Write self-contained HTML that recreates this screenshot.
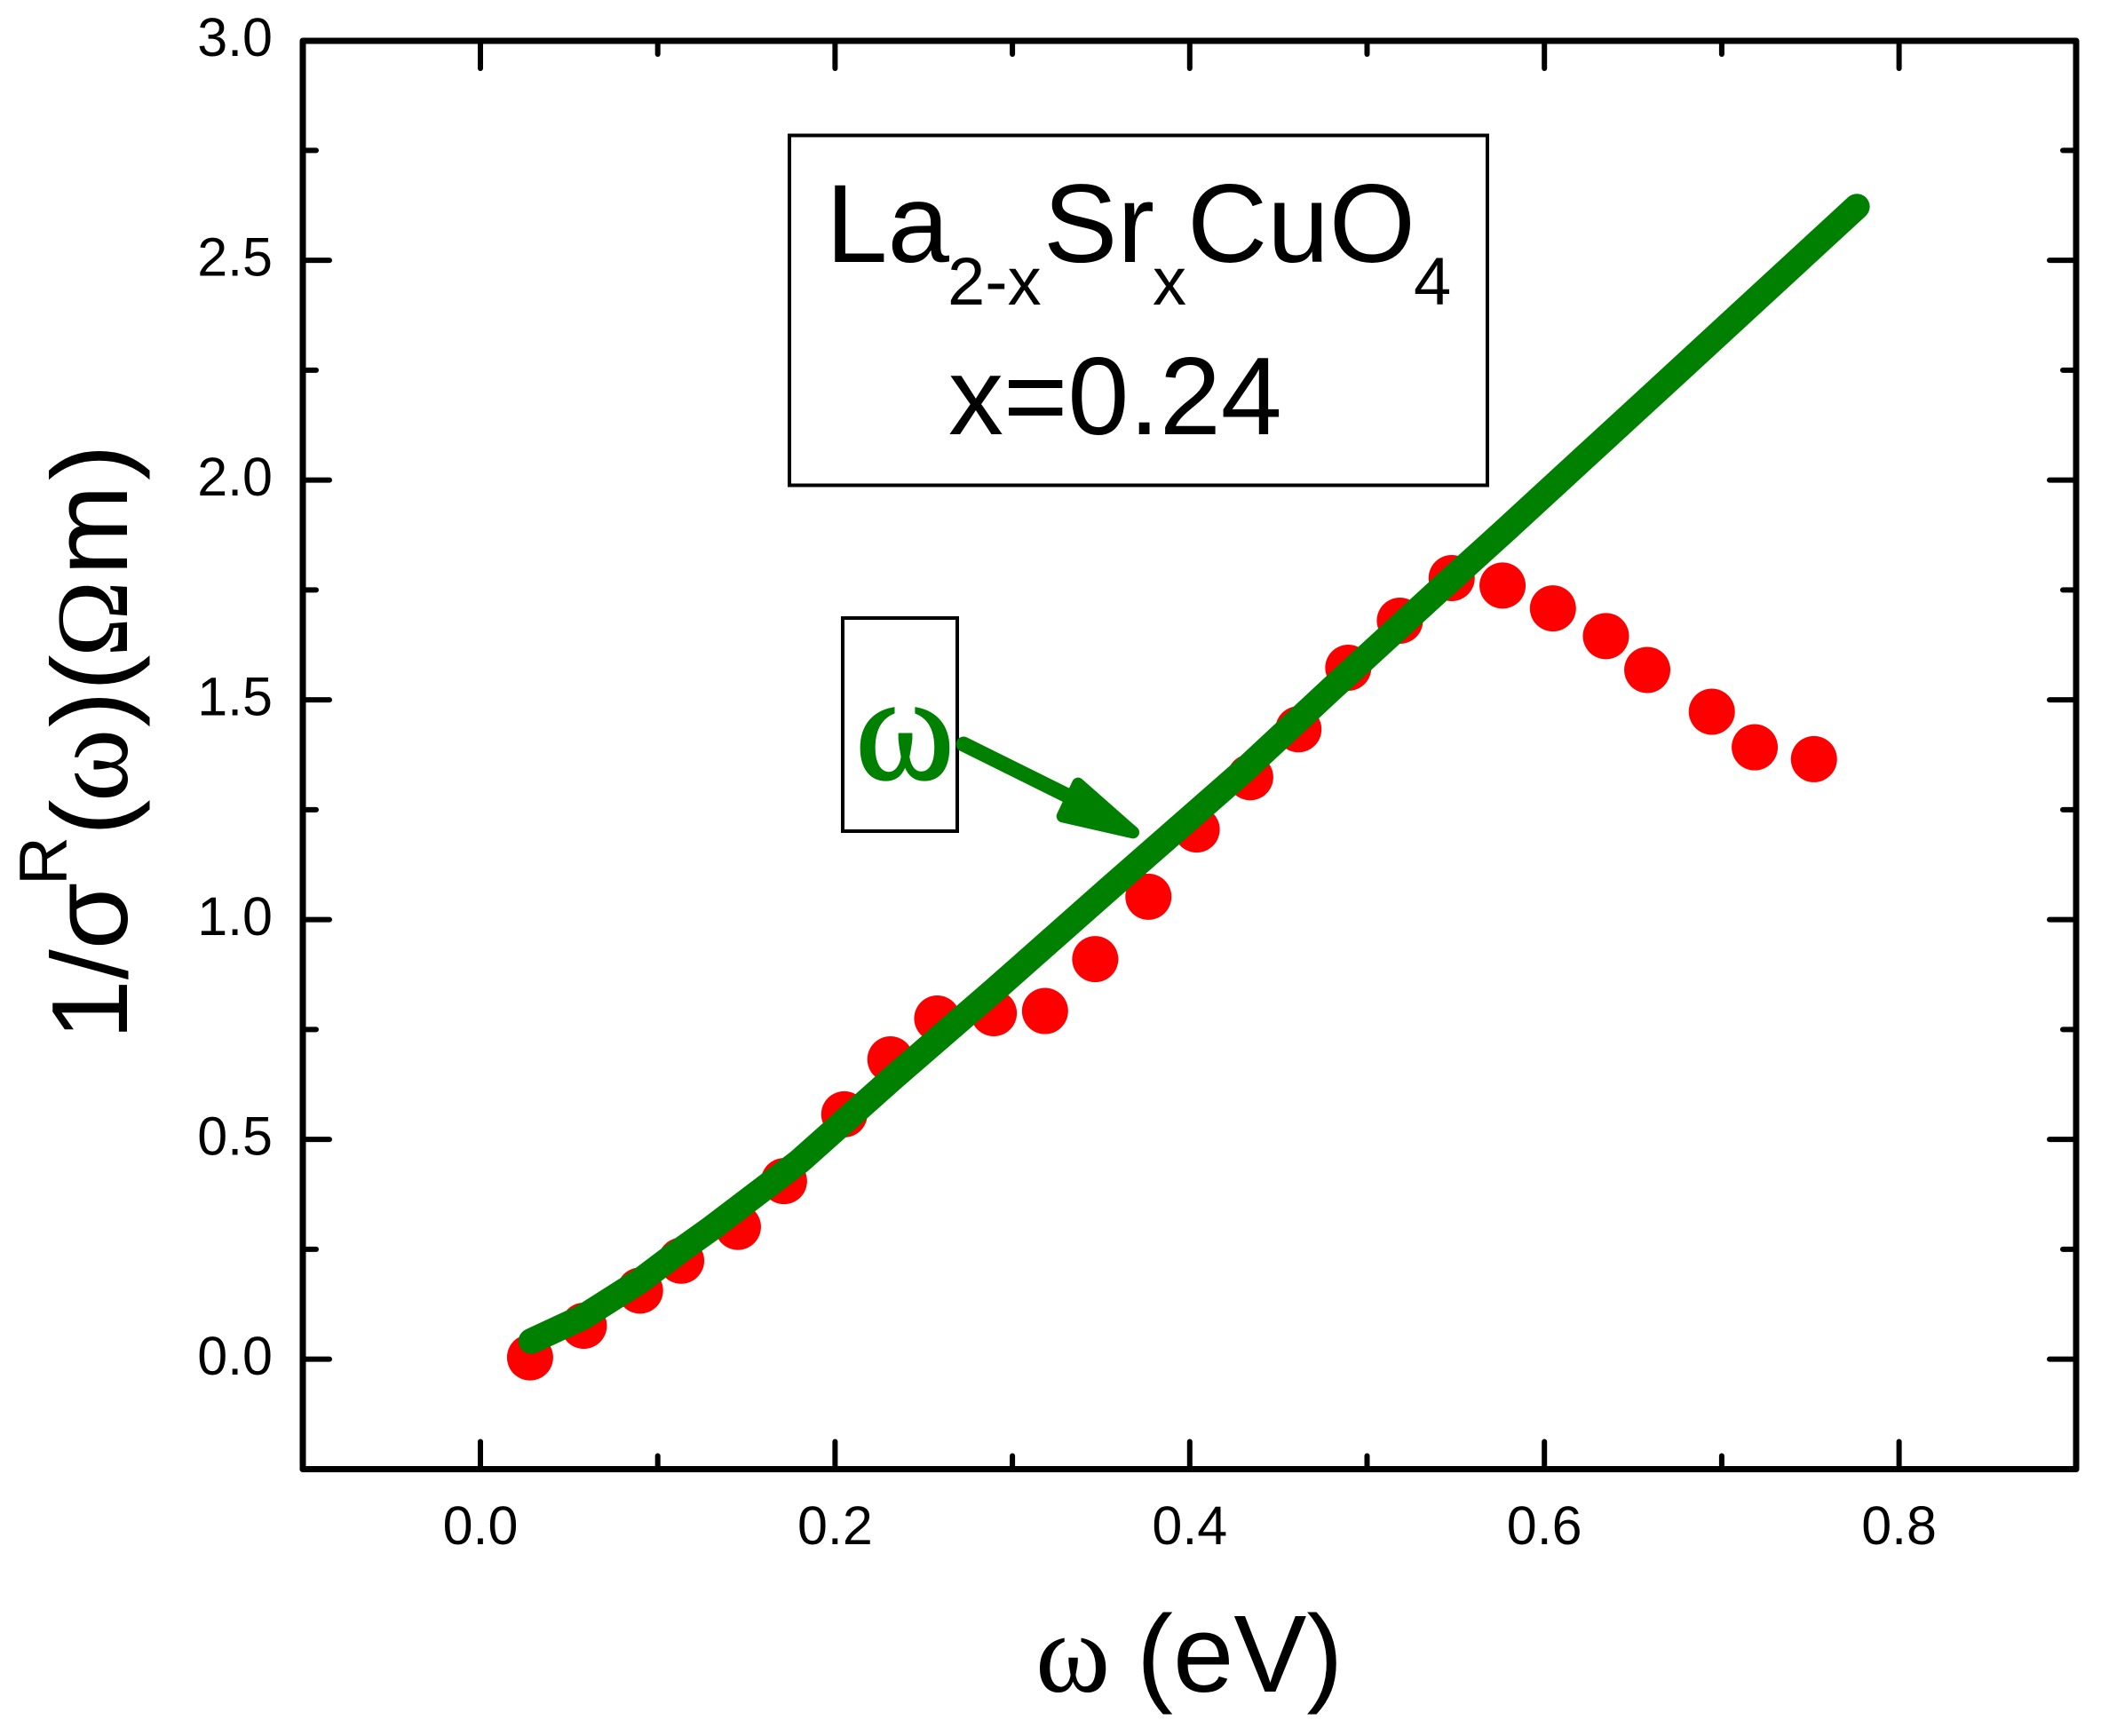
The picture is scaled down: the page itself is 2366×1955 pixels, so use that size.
<!DOCTYPE html>
<html lang="en">
<head>
<meta charset="utf-8">
<title>Inverse optical conductivity of La2-xSrxCuO4</title>
<style>
html,body{margin:0;padding:0;background:#fff;}
svg{display:block;}
text{font-family:"Liberation Sans",Arial,sans-serif;fill:#000;}
.serif{font-family:"Liberation Serif","DejaVu Serif",serif;}
</style>
</head>
<body>
<svg id="chart" xmlns="http://www.w3.org/2000/svg" width="2366" height="1955" viewBox="0 0 2366 1955">
  <rect x="0" y="0" width="2366" height="1955" fill="#fff"/>
  <g id="ticks"></g>
  <g id="ticklabels"></g>
  <g id="dots"></g>
  <path id="fit" fill="none" stroke="#008000" stroke-width="29" stroke-linecap="round" stroke-linejoin="round"/>
  <rect x="341" y="46" width="1997" height="1608.5" fill="none" stroke="#000" stroke-width="7" stroke-linejoin="round"/>

  <g>
    <rect x="889" y="152.5" width="786" height="394" fill="none" stroke="#000" stroke-width="4"/>
    <text font-size="125"><tspan x="930" y="295">La</tspan><tspan x="1067" y="343" font-size="76">2-x</tspan><tspan x="1175" y="295">Sr</tspan><tspan x="1298" y="343" font-size="76">x</tspan><tspan x="1337" y="295">CuO</tspan><tspan x="1592" y="343" font-size="76">4</tspan></text>
    <text x="1068" y="489" font-size="124">x=0.24</text>
  </g>

  <g>
    <rect x="949" y="696" width="129" height="240" fill="none" stroke="#000" stroke-width="4"/>
    <text class="serif" x="963" y="877" font-size="170" stroke="#008000" stroke-width="2" style="fill:#008000">ω</text>
    <line x1="1085" y1="838" x2="1210" y2="900" stroke="#008000" stroke-width="17" stroke-linecap="round"/>
    <polygon points="1214,882.7 1276,937.3 1196.7,919.3" fill="#008000" stroke="#008000" stroke-width="14" stroke-linejoin="round"/>
  </g>

  <text font-size="123"><tspan class="serif" x="1166" y="1905" font-size="128">ω</tspan><tspan x="1280" y="1905">(eV)</tspan></text>

  <g transform="rotate(-90)">
    <text font-size="122"><tspan x="-1171" y="143">1/σ</tspan><tspan x="-997" y="75" font-size="76">R</tspan><tspan x="-941" y="143">(</tspan><tspan class="serif" x="-903" y="143" font-size="125">ω</tspan><tspan x="-819" y="143">)</tspan><tspan x="-778" y="143">(</tspan><tspan class="serif" x="-740" y="143" font-size="116">Ω</tspan><tspan x="-648" y="143">m</tspan><tspan x="-541" y="143">)</tspan></text>
  </g>
</svg>
<script>
var pointX = [0.028,0.0583,0.09,0.1132,0.1452,0.1712,0.2052,0.2312,0.2576,0.2895,0.3184,0.3467,0.3767,0.4039,0.4341,0.4613,0.4894,0.5185,0.5477,0.5764,0.6048,0.6347,0.658,0.6944,0.7186,0.752];
var pointY = [0.004,0.076,0.156,0.224,0.301,0.405,0.557,0.682,0.775,0.787,0.792,0.910,1.052,1.205,1.324,1.433,1.573,1.680,1.777,1.760,1.708,1.645,1.568,1.473,1.392,1.365];
var lineX = [0.0287,0.058,0.09,0.113,0.1297,0.1798,0.2332,0.2899,0.355,0.43,0.48,0.54,0.578,0.599,0.66,0.6966,0.7762];
var lineY = [0.041,0.096,0.178,0.248,0.296,0.4497,0.6416,0.8396,1.0719,1.337,1.525,1.747,1.886,1.964,2.19,2.326,2.622];
var xMajorTicks = [0,0.2,0.4,0.6,0.8];
var xMinorTicks = [0.1,0.3,0.5,0.7];
var yMajorTicks = [0,0.5,1,1.5,2,2.5];
var yMinorTicks = [0.25,0.75,1.25,1.75,2.25,2.75];
var xTickLabels = ["0.0","0.2","0.4","0.6","0.8"];
var yTickLabels = ["0.0","0.5","1.0","1.5","2.0","2.5","3.0"];
var yLabelValues = [0,0.5,1,1.5,2,2.5,3];

var NS = "http://www.w3.org/2000/svg";
var LEFT = 341, RIGHT = 2338, TOP = 46, BOTTOM = 1654.5;
function sx(v){ return 541 + 1997 * v; }
function sy(v){ return 1530.6 - 495 * v; }

var tickGroup = document.getElementById("ticks");
var labelGroup = document.getElementById("ticklabels");
var dotGroup = document.getElementById("dots");

function makeTick(x1, y1, x2, y2){
  var t = document.createElementNS(NS, "line");
  t.setAttribute("x1", x1);
  t.setAttribute("y1", y1);
  t.setAttribute("x2", x2);
  t.setAttribute("y2", y2);
  t.setAttribute("stroke", "#000");
  t.setAttribute("stroke-width", "6");
  t.setAttribute("stroke-linecap", "round");
  
  
  tickGroup.appendChild(t);
}
function xTick(v, len){
  makeTick(sx(v), BOTTOM, sx(v), BOTTOM - len);
  makeTick(sx(v), TOP, sx(v), TOP + len);
}
function yTick(v, len){
  makeTick(LEFT, sy(v), LEFT + len, sy(v));
  makeTick(RIGHT, sy(v), RIGHT - len, sy(v));
}
xMajorTicks.forEach(function(v){ xTick(v, 31); });
xMinorTicks.forEach(function(v){ xTick(v, 15); });
yMajorTicks.forEach(function(v){ yTick(v, 30); });
yMinorTicks.forEach(function(v){ yTick(v, 15); });

xMajorTicks.forEach(function(v, i){
  var l = document.createElementNS(NS, "text");
  l.setAttribute("x", sx(v));
  l.setAttribute("y", 1739);
  l.setAttribute("text-anchor", "middle");
  l.setAttribute("font-size", "61");
  
  
  l.textContent = xTickLabels[i];
  labelGroup.appendChild(l);
});
yLabelValues.forEach(function(v, i){
  var l = document.createElementNS(NS, "text");
  l.setAttribute("x", 307);
  l.setAttribute("y", sy(v) + 17.5);
  l.setAttribute("text-anchor", "end");
  l.setAttribute("font-size", "61");
  
  
  l.textContent = yTickLabels[i];
  labelGroup.appendChild(l);
});

pointX.forEach(function(v, i){
  var c = document.createElementNS(NS, "circle");
  c.setAttribute("cx", sx(v));
  c.setAttribute("cy", sy(pointY[i]));
  c.setAttribute("r", "26");
  c.setAttribute("fill", "#ff0000");
  
  
  dotGroup.appendChild(c);
});

var d = lineX.map(function(v, i){
  return (i ? "L" : "M") + sx(v).toFixed(1) + " " + sy(lineY[i]).toFixed(1);
}).join(" ");
document.getElementById("fit").setAttribute("d", d);
</script>
</body>
</html>
